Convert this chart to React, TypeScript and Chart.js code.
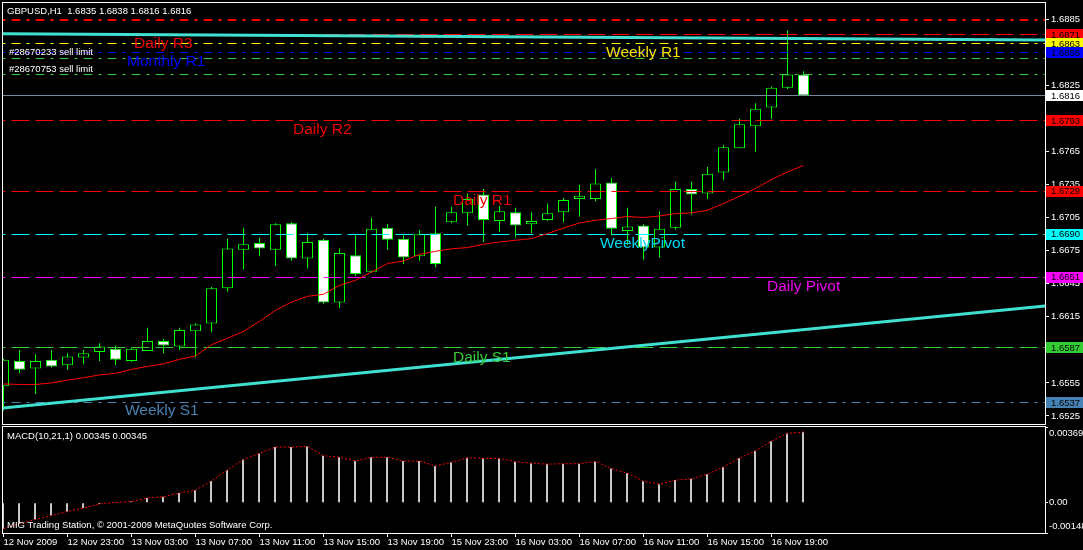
import React, { useEffect, useRef } from "react";
import { Chart, registerables } from "chart.js";

Chart.register(...registerables);

const FONT = '"Liberation Sans", Arial, Helvetica, sans-serif';

// ---------- categories (H1 bars) ----------
const barTimes = [
  "2009-11-12 19:00", "2009-11-12 20:00", "2009-11-12 21:00", "2009-11-12 22:00", "2009-11-12 23:00",
  "2009-11-13 00:00", "2009-11-13 01:00", "2009-11-13 02:00", "2009-11-13 03:00", "2009-11-13 04:00",
  "2009-11-13 05:00", "2009-11-13 06:00", "2009-11-13 07:00", "2009-11-13 08:00", "2009-11-13 09:00",
  "2009-11-13 10:00", "2009-11-13 11:00", "2009-11-13 12:00", "2009-11-13 13:00", "2009-11-13 14:00",
  "2009-11-13 15:00", "2009-11-13 16:00", "2009-11-13 17:00", "2009-11-13 18:00", "2009-11-13 19:00",
  "2009-11-13 20:00", "2009-11-13 21:00", "2009-11-13 22:00", "2009-11-15 23:00", "2009-11-16 00:00",
  "2009-11-16 01:00", "2009-11-16 02:00", "2009-11-16 03:00", "2009-11-16 04:00", "2009-11-16 05:00",
  "2009-11-16 06:00", "2009-11-16 07:00", "2009-11-16 08:00", "2009-11-16 09:00", "2009-11-16 10:00",
  "2009-11-16 11:00", "2009-11-16 12:00", "2009-11-16 13:00", "2009-11-16 14:00", "2009-11-16 15:00",
  "2009-11-16 16:00", "2009-11-16 17:00", "2009-11-16 18:00", "2009-11-16 19:00", "2009-11-16 20:00",
  "2009-11-16 21:00",
];

// ---------- OHLC ----------
const opens = [
  1.6552, 1.6575, 1.6568, 1.6576, 1.6571, 1.6578, 1.6583, 1.6586, 1.6575, 1.6584,
  1.6593, 1.6588, 1.6602, 1.6609, 1.6641, 1.6676, 1.6682, 1.6676, 1.6700, 1.6668,
  1.6685, 1.6628, 1.6671, 1.6656, 1.6696, 1.6686, 1.6670, 1.6691, 1.6701, 1.6709,
  1.6726, 1.6702, 1.6710, 1.6699, 1.6703, 1.6710, 1.6722, 1.6722, 1.6737, 1.6693,
  1.6698, 1.6678, 1.6696, 1.6731, 1.6727, 1.6746, 1.6768, 1.6788, 1.6805, 1.6823,
  1.6835,
];
const highs = [
  1.6577, 1.6585, 1.6581, 1.6585, 1.6582, 1.6585, 1.6591, 1.6589, 1.6587, 1.6605,
  1.6595, 1.6605, 1.6609, 1.6642, 1.6686, 1.6696, 1.6687, 1.6700, 1.6701, 1.6691,
  1.6686, 1.6677, 1.6689, 1.6705, 1.6699, 1.6689, 1.6694, 1.6715, 1.6715, 1.6727,
  1.6731, 1.6716, 1.6714, 1.6710, 1.6718, 1.6723, 1.6735, 1.6749, 1.6741, 1.6714,
  1.6699, 1.6711, 1.6738, 1.6738, 1.6751, 1.6771, 1.6795, 1.6809, 1.6824, 1.6875,
  1.6838,
];
const lows = [
  1.6530, 1.6564, 1.6545, 1.6569, 1.6567, 1.6572, 1.6575, 1.6571, 1.6574, 1.6584,
  1.6582, 1.6585, 1.6578, 1.6601, 1.6638, 1.6658, 1.6670, 1.6661, 1.6666, 1.6659,
  1.6627, 1.6623, 1.6652, 1.6655, 1.6676, 1.6663, 1.6666, 1.6660, 1.6700, 1.6698,
  1.6683, 1.6692, 1.6687, 1.6691, 1.6702, 1.6701, 1.6706, 1.6720, 1.6689, 1.6680,
  1.6667, 1.6669, 1.6694, 1.6708, 1.6722, 1.6739, 1.6768, 1.6765, 1.6795, 1.6822,
  1.6816,
];
const closes = [
  1.6576, 1.6567, 1.6575, 1.6570, 1.6579, 1.6582, 1.6588, 1.6576, 1.6586, 1.6593,
  1.6589, 1.6603, 1.6608, 1.6641, 1.6677, 1.6681, 1.6677, 1.6699, 1.6668, 1.6683,
  1.6628, 1.6673, 1.6654, 1.6695, 1.6685, 1.6669, 1.6690, 1.6663, 1.6710, 1.6722,
  1.6703, 1.6711, 1.6698, 1.6702, 1.6709, 1.6721, 1.6725, 1.6736, 1.6695, 1.6697,
  1.6678, 1.6695, 1.6731, 1.6726, 1.6745, 1.6769, 1.6790, 1.6804, 1.6823, 1.6835,
  1.6816,
];

// ---------- moving average (red) ----------
const maValues = [
  1.65541, 1.65536, 1.65536, 1.6555, 1.65575, 1.65597, 1.65623, 1.65636, 1.65673, 1.657,
  1.65723, 1.65764, 1.65795, 1.65897, 1.65955, 1.66018, 1.66109, 1.66209, 1.66285, 1.66336,
  1.66355, 1.66436, 1.66482, 1.66557, 1.66634, 1.66657, 1.66718, 1.66745, 1.66768, 1.66779,
  1.66809, 1.6683, 1.66845, 1.66861, 1.66906, 1.66957, 1.67003, 1.67027, 1.67043, 1.67061,
  1.67052, 1.67066, 1.67088, 1.67094, 1.67118, 1.67179, 1.67245, 1.67315, 1.67397, 1.67466,
  1.67525,
];

// ---------- MACD(10,21,1) ----------
const macdValues = [
  -0.00127, -0.00103, -0.00082, -0.00063, -0.00043, -0.00026, -0.00006, 0.00001, 0.00006, 0.00023,
  0.00029, 0.00047, 0.00061, 0.00106, 0.00159, 0.00211, 0.0024, 0.00272, 0.00271, 0.00274,
  0.00229, 0.00222, 0.00203, 0.00221, 0.00222, 0.00203, 0.00203, 0.00179, 0.00197, 0.00219,
  0.00216, 0.00216, 0.002, 0.00192, 0.00188, 0.0019, 0.0019, 0.00201, 0.00166, 0.00143,
  0.00105, 0.0009, 0.0011, 0.00116, 0.00139, 0.00174, 0.00217, 0.00253, 0.003, 0.00338,
  0.00345,
];
// signal = SMA(1) of MACD, i.e. the MACD itself
const macdSignal = macdValues;

// ---------- axes ----------
const xMin = -0.03125;
const xMax = 65.09375;
const priceMin = 1.65177;
const priceMax = 1.69;
const priceTicks = [1.6525, 1.6555, 1.6585, 1.6615, 1.6645, 1.6675, 1.6705, 1.6735, 1.6765, 1.6795, 1.6825, 1.6855, 1.6885];
const macdMin = -0.00148;
const macdMax = 0.00369;
const macdTickValues = [0.00369, 0, -0.00148];
const macdTickLabels = ["0.00369", "0.00", "-0.00148"];
const xTickBars = [0, 4, 8, 12, 16, 20, 24, 28, 32, 36, 40, 44, 48];
const xTickLabels = [
  "12 Nov 2009", "12 Nov 23:00", "13 Nov 03:00", "13 Nov 07:00", "13 Nov 11:00", "13 Nov 15:00",
  "13 Nov 19:00", "15 Nov 23:00", "16 Nov 03:00", "16 Nov 07:00", "16 Nov 11:00", "16 Nov 15:00", "16 Nov 19:00",
];

// ---------- horizontal levels ----------
const levelNames = [
  "Stop loss", "Daily R3", "Weekly R1", "Monthly R1", "#28670233 sell limit", "#28670753 sell limit",
  "Bid", "Daily R2", "Daily R1", "Weekly Pivot", "Daily Pivot", "Daily S1", "Weekly S1",
];
const levelPrices = [1.6885, 1.6871, 1.6863, 1.6855, 1.6850, 1.6835, 1.6816, 1.6793, 1.6729, 1.6690, 1.6651, 1.6587, 1.6537];
const levelSpanBars = [-1, 66];

// ---------- trend lines ----------
const trendUpperBars = [-1, 66];
const trendUpperPrices = [1.68722, 1.68663];
const trendLowerBars = [-1, 66];
const trendLowerPrices = [1.65309, 1.66261];

// ---------- chart texts ----------
const levelTexts = ["Daily R3", "Monthly R1", "Weekly R1", "Daily R2", "Daily R1", "WeeklyPivot", "Daily Pivot", "Daily S1", "Weekly S1"];
const levelTextBars = [8.16, 7.72, 37.66, 18.09, 28.09, 37.28, 47.72, 28.09, 7.59];
const levelTextPrices = [1.68628, 1.68464, 1.68546, 1.67847, 1.67202, 1.66812, 1.66421, 1.65777, 1.65296];
const orderLabels = ["#28670233 sell limit", "#28670753 sell limit"];
const orderLabelBars = [0.34, 0.34];
const orderLabelPrices = [1.68549, 1.68398];
const symbolName = "GBPUSD,H1";
const copyright = "MIG Trading Station, \u00A9 2001-2009 MetaQuotes Software Corp.";

// ---------- styles ----------
const RED = "#ff0000";
const DASH = [18, 6];
const DASHDOT = [9, 6, 3, 6];
const LEVEL_STYLES = [
  { color: RED, dash: DASHDOT, width: 2, tag: null },
  { color: RED, dash: DASH, width: 1, tag: "#ff0000" },
  { color: "#ffff00", dash: DASHDOT, width: 1, tag: "#ffff00" },
  { color: "#0000ff", dash: DASHDOT, width: 1, tag: "#0000ff" },
  { color: "#32cd32", dash: DASHDOT, width: 1, tag: null },
  { color: "#32cd32", dash: DASHDOT, width: 1, tag: null },
  { color: "#778899", dash: [], width: 1, tag: "#ffffff" },
  { color: RED, dash: DASH, width: 1, tag: "#ff0000" },
  { color: RED, dash: DASH, width: 1, tag: "#ff0000" },
  { color: "#00ffff", dash: DASH, width: 1, tag: "#00ffff" },
  { color: "#ff00ff", dash: DASH, width: 1, tag: "#ff00ff" },
  { color: "#32cd32", dash: DASH, width: 1, tag: "#32cd32" },
  { color: "#4682b4", dash: DASHDOT, width: 1, tag: "#4682b4" },
];
const LEVEL_TEXT_COLORS = ["#f00000", "#0000ff", "#f5e000", "#f00000", "#f00000", "#00d8f0", "#f000f0", "#32cd32", "#4682b4"];

const fmt4 = (v: number) => v.toFixed(4);

const noPad = (s: any) => {
  s.paddingTop = 0;
  s.paddingBottom = 0;
  s.paddingLeft = 0;
  s.paddingRight = 0;
};

// pixel-snapping of horizontal lines / thin bars (render offset only, values stay on the scales)
const snapPlugin = {
  id: "snapPlugin",
  beforeDatasetDraw(chart: any, args: any) {
    const ds = chart.data.datasets[args.index];
    if (!ds.snapY && !ds.shiftX) return;
    const ctx = chart.ctx;
    ctx.save();
    let dy = 0;
    if (ds.snapY) {
      const y = chart.scales.y.getPixelForValue(ds.data[0].y);
      const w = ds.borderWidth || 1;
      const target = w % 2 === 1 ? Math.floor(y) + 0.5 : Math.round(y);
      dy = target - y;
    }
    ctx.translate(ds.shiftX || 0, dy);
  },
  afterDatasetDraw(chart: any, args: any) {
    const ds = chart.data.datasets[args.index];
    if (!ds.snapY && !ds.shiftX) return;
    chart.ctx.restore();
  },
};

function buildMainConfig(): any {
  const idx = barTimes.map((_, i) => i);
  const datasets: any[] = [];
  datasets.push({
    type: "bar",
    data: idx.map((i) => ({ x: i, y: [lows[i], highs[i]] })),
    backgroundColor: "#00ff00",
    borderWidth: 0,
    barThickness: 1,
    grouped: false,
    inflateAmount: 0,
    order: 6,
    clip: 0,
  });
  datasets.push({
    type: "bar",
    data: idx.map((i) => ({ x: i, y: [opens[i], closes[i]] })),
    backgroundColor: idx.map((i) => (closes[i] >= opens[i] ? "#000000" : "#ffffff")),
    borderColor: "#00ff00",
    borderWidth: 1,
    borderSkipped: false,
    barThickness: 11,
    grouped: false,
    inflateAmount: 0,
    order: 5,
    clip: 0,
  });
  levelPrices.forEach((p, k) => {
    const st = LEVEL_STYLES[k];
    datasets.push({
      type: "line",
      label: levelNames[k],
      data: levelSpanBars.map((b) => ({ x: b, y: p })),
      borderColor: st.color,
      borderWidth: st.width,
      borderDash: st.dash,
      pointRadius: 0,
      order: 4,
      clip: 0,
      snapY: true,
    });
  });
  [
    [trendUpperBars, trendUpperPrices],
    [trendLowerBars, trendLowerPrices],
  ].forEach(([bars, prices]) => {
    datasets.push({
      type: "line",
      data: bars.map((b, j) => ({ x: b, y: prices[j] })),
      borderColor: "#40e0d0",
      borderWidth: 3,
      pointRadius: 0,
      order: 3,
      clip: 0,
    });
  });
  datasets.push({
    type: "line",
    data: idx.map((i) => ({ x: i, y: maValues[i] })),
    borderColor: "#ff0000",
    borderWidth: 1,
    pointRadius: 0,
    order: 1,
    clip: 0,
  });

  const overlay = {
    id: "mainOverlay",
    afterDraw(chart: any) {
      const { ctx, chartArea: a, scales } = chart;
      const xs = scales.x;
      const ys = scales.y;
      ctx.save();
      ctx.beginPath();
      ctx.rect(a.left, a.top, a.right - a.left, a.bottom - a.top);
      ctx.clip();
      ctx.textBaseline = "middle";
      ctx.textAlign = "left";
      ctx.font = `15.5px ${FONT}`;
      levelTexts.forEach((t, k) => {
        ctx.fillStyle = LEVEL_TEXT_COLORS[k];
        ctx.fillText(t, xs.getPixelForValue(levelTextBars[k]), ys.getPixelForValue(levelTextPrices[k]));
      });
      ctx.font = `9.5px ${FONT}`;
      ctx.fillStyle = "#ffffff";
      orderLabels.forEach((t, k) => {
        ctx.fillText(t, xs.getPixelForValue(orderLabelBars[k]), ys.getPixelForValue(orderLabelPrices[k]));
      });
      const n = closes.length - 1;
      const header = `${symbolName}  ${fmt4(opens[n])} ${fmt4(highs[n])} ${fmt4(lows[n])} ${fmt4(closes[n])}`;
      ctx.fillText(header, 7, 11);
      ctx.restore();

      ctx.save();
      ctx.font = `9.5px ${FONT}`;
      ctx.textBaseline = "middle";
      ctx.textAlign = "left";
      levelPrices.forEach((p, k) => {
        const st = LEVEL_STYLES[k];
        if (!st.tag) return;
        const y = ys.getPixelForValue(p);
        ctx.fillStyle = st.tag;
        ctx.fillRect(a.right + 1, Math.round(y - 5.5), 40, 11);
        ctx.fillStyle = "#000000";
        ctx.fillText(fmt4(p), a.right + 6, y + 0.5);
      });
      ctx.strokeStyle = "#ffffff";
      ctx.lineWidth = 1;
      ctx.strokeRect(a.left - 0.5, a.top - 0.5, a.right - a.left + 1, a.bottom - a.top + 1);
      ctx.restore();
    },
  };

  return {
    type: "line",
    data: { datasets },
    plugins: [snapPlugin, overlay],
    options: {
      responsive: false,
      animation: false,
      events: [],
      layout: { padding: { left: 3, top: 3, right: 0, bottom: 1 } },
      plugins: { legend: { display: false }, tooltip: { enabled: false }, title: { display: false } },
      scales: {
        x: {
          type: "linear",
          min: xMin,
          max: xMax,
          offset: false,
          display: false,
          grid: { offset: false },
        },
        y: {
          type: "linear",
          position: "right",
          min: priceMin,
          max: priceMax,
          afterBuildTicks: (s: any) => {
            s.ticks = priceTicks.map((v) => ({ value: v }));
          },
          afterFit: (s: any) => {
            s.width = 38;
            noPad(s);
          },
          ticks: {
            color: "#ffffff",
            font: { family: FONT, size: 9.5 },
            padding: 2,
            autoSkip: false,
            callback: (v: any) => Number(v).toFixed(4),
          },
          grid: { display: true, drawOnChartArea: false, drawTicks: true, tickLength: 4, color: "#ffffff" },
          border: { display: false },
        },
      },
    },
  };
}

function buildMacdConfig(): any {
  const idx = barTimes.map((_, i) => i);
  const datasets: any[] = [
    {
      type: "bar",
      data: idx.map((i) => ({ x: i, y: macdValues[i] })),
      backgroundColor: "#c8c8c8",
      borderWidth: 0,
      barThickness: 2,
      grouped: false,
      inflateAmount: 0,
      order: 2,
      clip: 0,
      shiftX: -0.5,
    },
    {
      type: "line",
      data: idx.map((i) => ({ x: i, y: macdSignal[i] })),
      borderColor: "#ff0000",
      borderWidth: 1,
      borderDash: [2, 2],
      pointRadius: 0,
      order: 1,
      clip: 0,
    },
  ];

  const overlay = {
    id: "macdOverlay",
    afterDraw(chart: any) {
      const { ctx, chartArea: a, scales } = chart;
      const ys = scales.y;
      ctx.save();
      ctx.font = `9.5px ${FONT}`;
      ctx.textBaseline = "middle";
      ctx.textAlign = "left";
      ctx.fillStyle = "#ffffff";
      macdTickValues.forEach((v, k) => {
        let y = ys.getPixelForValue(v);
        if (v === macdMax) y += 6.5;
        else if (v === macdMin) y -= 6.5;
        ctx.fillText(macdTickLabels[k], a.right + 4, y);
      });
      const last = macdValues[macdValues.length - 1].toFixed(5);
      const lastSig = macdSignal[macdSignal.length - 1].toFixed(5);
      ctx.fillText(`MACD(10,21,1) ${last} ${lastSig}`, 7, 11);
      ctx.fillText(copyright, 7, 100);
      ctx.strokeStyle = "#ffffff";
      ctx.lineWidth = 1;
      ctx.strokeRect(a.left - 0.5, a.top - 0.5, a.right - a.left + 1, a.bottom - a.top + 1);
      ctx.restore();
    },
  };

  return {
    type: "line",
    data: { datasets },
    plugins: [snapPlugin, overlay],
    options: {
      responsive: false,
      animation: false,
      events: [],
      layout: { padding: { left: 3, top: 2, right: 0, bottom: 0 } },
      plugins: { legend: { display: false }, tooltip: { enabled: false }, title: { display: false } },
      scales: {
        x: {
          type: "linear",
          min: xMin,
          max: xMax,
          offset: false,
          afterBuildTicks: (s: any) => {
            s.ticks = xTickBars.map((v) => ({ value: v }));
          },
          afterFit: (s: any) => {
            s.height = 17;
            noPad(s);
          },
          ticks: {
            color: "#ffffff",
            font: { family: FONT, size: 9.5 },
            align: "start",
            maxRotation: 0,
            minRotation: 0,
            autoSkip: false,
            padding: 0,
            labelOffset: 0,
            callback: (_v: any, i: number) => xTickLabels[i],
          },
          grid: { display: true, drawOnChartArea: false, drawTicks: true, tickLength: 4, color: "#ffffff", offset: false },
          border: { display: false },
        },
        y: {
          type: "linear",
          position: "right",
          min: macdMin,
          max: macdMax,
          afterBuildTicks: (s: any) => {
            s.ticks = macdTickValues.map((v) => ({ value: v }));
          },
          afterFit: (s: any) => {
            s.width = 38;
            noPad(s);
          },
          ticks: { display: false },
          grid: { display: true, drawOnChartArea: false, drawTicks: true, tickLength: 3, color: "#ffffff" },
          border: { display: false },
        },
      },
    },
  };
}

export default function App() {
  const mainRef = useRef<HTMLCanvasElement>(null);
  const macdRef = useRef<HTMLCanvasElement>(null);

  useEffect(() => {
    const c1 = new Chart(mainRef.current as HTMLCanvasElement, buildMainConfig());
    const c2 = new Chart(macdRef.current as HTMLCanvasElement, buildMacdConfig());
    return () => {
      c1.destroy();
      c2.destroy();
    };
  }, []);

  return (
    <div
      style={{
        position: "fixed",
        left: 0,
        top: 0,
        width: 1083,
        height: 550,
        background: "#000000",
        overflow: "hidden",
      }}
    >
      <canvas
        ref={mainRef}
        width={1083}
        height={425}
        style={{ position: "absolute", left: 0, top: 0, width: 1083, height: 425 }}
      />
      <canvas
        ref={macdRef}
        width={1083}
        height={125}
        style={{ position: "absolute", left: 0, top: 425, width: 1083, height: 125 }}
      />
    </div>
  );
}
